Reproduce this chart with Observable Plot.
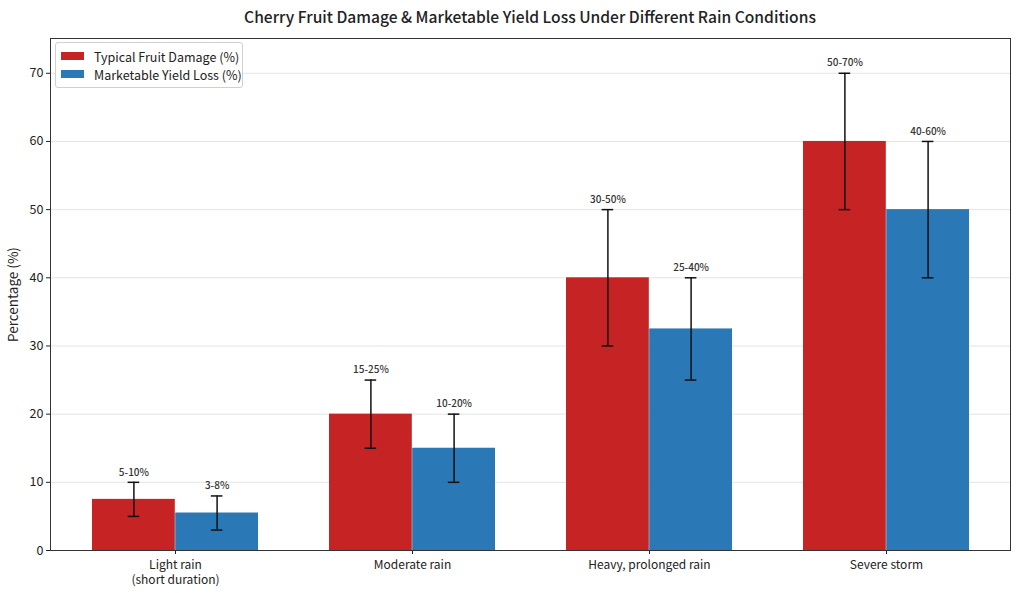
<!DOCTYPE html>
<html><head><meta charset="utf-8">
<script src="https://cdn.jsdelivr.net/npm/d3@7"></script>
<script src="https://cdn.jsdelivr.net/npm/@observablehq/plot@0.6"></script>
<style>
body{margin:0;background:#fff;font-family:"Noto Sans CJK SC","Noto Sans",sans-serif;}
#wrap{position:relative;width:1024px;height:593px;}
#title{position:absolute;left:50px;top:5px;width:960px;text-align:center;font-size:15.6px;font-weight:500;color:#222;}
#chart{position:absolute;left:0;top:30px;}
#legend{position:absolute;left:55px;top:42px;width:186px;height:44px;border:1px solid #d0d0d0;border-radius:3px;background:rgba(255,255,255,0.85);font-size:12.5px;color:#222;}
.row{position:absolute;left:5px;height:18px;display:flex;align-items:center;}
.sw{width:23px;height:8px;margin-right:10px;}
</style></head>
<body><div id="wrap"><div id="title"></div><div id="chart"></div><div id="legend"></div></div>
<script>
const title = "Cherry Fruit Damage & Marketable Yield Loss Under Different Rain Conditions";
const categories = ["Light rain\n(short duration)", "Moderate rain", "Heavy, prolonged rain", "Severe storm"];
const seriesNames = ["Typical Fruit Damage (%)", "Marketable Yield Loss (%)"];
const colors = ["#c62424", "#2a78b5"];
const damageMid = [7.5, 20, 40, 60];
const damageLow = [5, 15, 30, 50];
const damageHigh = [10, 25, 50, 70];
const damageLabels = ["5-10%", "15-25%", "30-50%", "50-70%"];
const lossMid = [5.5, 15, 32.5, 50];
const lossLow = [3, 10, 25, 40];
const lossHigh = [8, 20, 40, 60];
const lossLabels = ["3-8%", "10-20%", "25-40%", "40-60%"];
const yTicks = [0, 10, 20, 30, 40, 50, 60, 70];

document.getElementById("title").textContent = title;
const leg = document.getElementById("legend");
seriesNames.forEach((n, i) => {
  const r = document.createElement("div");
  r.className = "row"; r.style.top = (4 + i * 18) + "px";
  r.innerHTML = `<span class="sw" style="background:${colors[i]}"></span><span></span>`;
  r.lastChild.textContent = n;
  leg.appendChild(r);
});

const dmg = categories.map((c, i) => ({c, v: damageMid[i], lo: damageLow[i], hi: damageHigh[i], lab: damageLabels[i]}));
const los = categories.map((c, i) => ({c, v: lossMid[i], lo: lossLow[i], hi: lossHigh[i], lab: lossLabels[i]}));

const bw = 166.4, half = bw / 2, off = bw / 4, capInset = (bw - 12) / 2;
const err = {stroke: "#111", strokeWidth: 1.5};

const chart = Plot.plot({
  width: 1024, height: 563,
  marginLeft: 50, marginRight: 14, marginTop: 8, marginBottom: 43,
  style: {fontFamily: '"Noto Sans CJK SC","Noto Sans",sans-serif', fontSize: "12px", color: "#222", background: "#fff"},
  x: {domain: categories, paddingInner: 0.3, paddingOuter: 0.17, label: null},
  y: {domain: [0, 75.1], label: null},
  marks: [
    Plot.gridY(yTicks, {stroke: "#e4e4e4", strokeOpacity: 1}),
    Plot.barY(dmg, {x: "c", y: "v", fill: colors[0], insetRight: half}),
    Plot.barY(los, {x: "c", y: "v", fill: colors[1], insetLeft: half}),
    Plot.ruleX(dmg, {x: "c", y1: "lo", y2: "hi", dx: -off, ...err}),
    Plot.ruleX(los, {x: "c", y1: "lo", y2: "hi", dx: off, ...err}),
    Plot.tickY(dmg, {x: "c", y: "lo", dx: -off, insetLeft: capInset, insetRight: capInset, ...err}),
    Plot.tickY(dmg, {x: "c", y: "hi", dx: -off, insetLeft: capInset, insetRight: capInset, ...err}),
    Plot.tickY(los, {x: "c", y: "lo", dx: off, insetLeft: capInset, insetRight: capInset, ...err}),
    Plot.tickY(los, {x: "c", y: "hi", dx: off, insetLeft: capInset, insetRight: capInset, ...err}),
    Plot.text(dmg, {x: "c", y: "hi", text: "lab", dx: -off, dy: -10, fontSize: 10, fontWeight: 500, fill: "#333"}),
    Plot.text(los, {x: "c", y: "hi", text: "lab", dx: off, dy: -10, fontSize: 10, fontWeight: 500, fill: "#333"}),
    Plot.axisY({ticks: yTicks, tickSize: 4, tickPadding: 3, fontSize: 12.5, label: "Percentage (%)", labelAnchor: "center", labelOffset: 42, labelArrow: "none"}),
    Plot.axisX({tickSize: 4, tickPadding: 4, fontSize: 12, lineHeight: 1.22, label: null}),
    Plot.frame({stroke: "#333", strokeWidth: 1})
  ]
});
const yl = [...chart.querySelectorAll("text")].find(t => t.textContent === "Percentage (%)");
if (yl) yl.setAttribute("font-size", "13.5");
document.getElementById("chart").appendChild(chart);
</script></body></html>
